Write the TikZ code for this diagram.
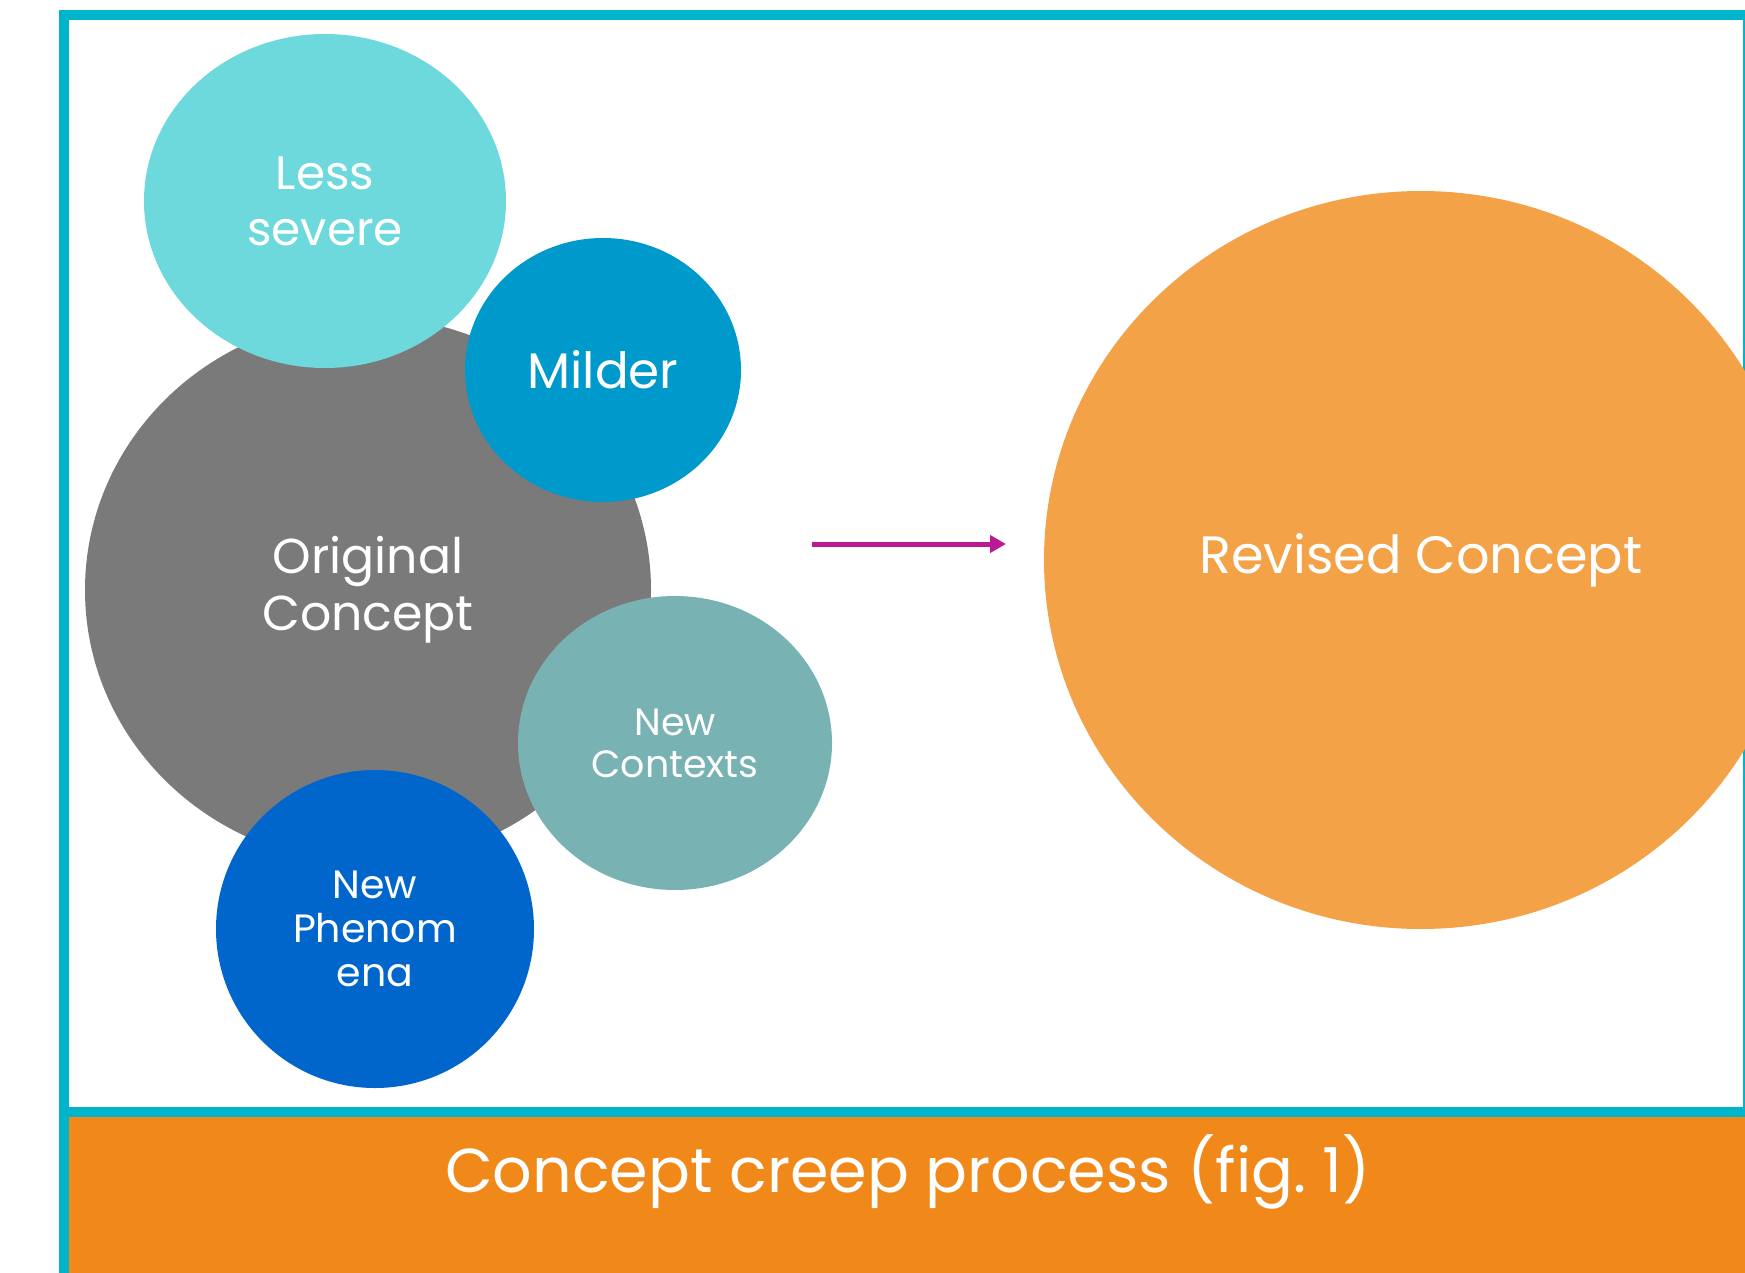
\documentclass[tikz,border=0pt]{standalone}
\usepackage{fontspec}
\setmainfont{Poppins}
\usetikzlibrary{arrows.meta,shapes.geometric}

\definecolor{framecyan}{HTML}{00B4CC}
\definecolor{barorange}{HTML}{F0891A}
\definecolor{origgray}{HTML}{7A7A7A}
\definecolor{lesscyan}{HTML}{6DD9DC}
\definecolor{mildblue}{HTML}{0099CC}
\definecolor{ctxteal}{HTML}{78B2B2}
\definecolor{phenblue}{HTML}{0066CC}
\definecolor{revorange}{HTML}{F4A247}
\definecolor{arrowmag}{HTML}{BA1A92}

\newcommand{\fsz}[2]{\fontsize{#1}{#2}\selectfont}

\tikzset{
  blob/.style={ellipse, inner sep=0pt, text=white, align=center}
}

\begin{document}
\begin{tikzpicture}[x=1pt,y=-1pt]
  \useasboundingbox (0,0) rectangle (1745,1273);
  % outer frame and caption bar
  \fill[barorange] (69,1117) rectangle (1745,1273);
  \draw[framecyan,line width=10pt] (64,1273) -- (64,15.5) -- (1748,15.5) -- (1748,1112) -- (64,1112);
  \node[text=white,font=\fsz{62}{66}] (caption) at (908,1172) {Concept creep process (fig.~1)};

  % the concept and the ways it widens
  \node[blob,font=\fsz{49}{57},fill=origgray,minimum width=566pt,minimum height=546pt] (orig) at (368,590) {Original\\Concept};
  \node[blob,font=\fsz{47}{56},fill=lesscyan,minimum width=362pt,minimum height=334pt] (less) at (325,201) {Less\\severe};
  \node[blob,font=\fsz{50}{56},fill=mildblue,minimum width=276pt,minimum height=264pt] (mild) at (603,370) {Milder};
  \node[blob,font=\fsz{38}{42},fill=ctxteal,minimum width=314pt,minimum height=294pt] (ctx) at (675,743) {New\\Contexts};
  \node[blob,font=\fsz{39.5}{44},fill=phenblue,minimum width=318pt,minimum height=318pt] (phen) at (375,929) {New\\Phenom\\ena};

  % result
  \node[blob,font=\fsz{52.5}{58},fill=revorange,minimum width=754pt,minimum height=738pt] (rev) at (1421,560) {Revised Concept};
  \coordinate (from) at (812,544);
  \coordinate (to) at (1006,544);
  \draw[arrowmag,line width=5pt,-{Triangle[length=16pt,width=17pt]}] (from) -- (to);
\end{tikzpicture}
\end{document}
